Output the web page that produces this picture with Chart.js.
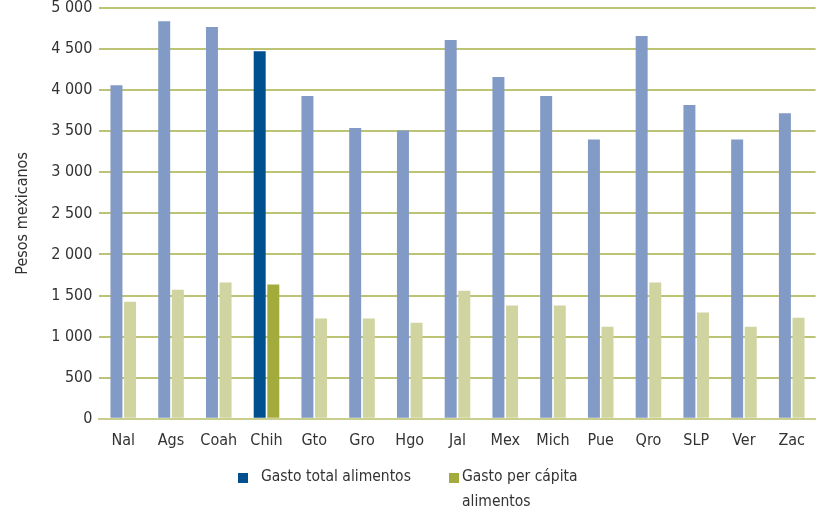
<!DOCTYPE html>
<html>
<head>
<meta charset="utf-8">
<script src="https://cdn.jsdelivr.net/npm/chart.js@4"></script>
<style>
  html, body { margin: 0; padding: 0; background: #fff; }
  #wrap { width: 817px; height: 515px; position: relative; }
</style>
</head>
<body>
<div id="wrap"><canvas id="gastoChart"></canvas></div>
<script>
const estados = ['Nal', 'Ags', 'Coah', 'Chih', 'Gto', 'Gro', 'Hgo', 'Jal', 'Mex', 'Mich', 'Pue', 'Qro', 'SLP', 'Ver', 'Zac'];
const gastoTotal = [4060, 4840, 4770, 4475, 3930, 3540, 3510, 4610, 4160, 3930, 3400, 4660, 3820, 3400, 3720];
const gastoPerCapita = [1425, 1570, 1660, 1635, 1220, 1220, 1170, 1560, 1380, 1380, 1120, 1660, 1295, 1120, 1230];
const seriesNames = ['Gasto total alimentos', ['Gasto per cápita', 'alimentos']];
const highlight = 'Chih';

const FONT = "'DejaVu Sans Condensed', 'Liberation Sans Narrow', sans-serif";

// light colours for every state, strong ones for the highlighted state
const totalColors = estados.map(e => e === highlight ? '#00508f' : '#829ac6');
const perCapColors = estados.map(e => e === highlight ? '#a3ab3c' : '#d0d4a0');

// legend drawn by hand so the second label can wrap on two lines
const legendPlugin = {
    id: 'customLegend',
    afterDraw(chart) {
        const ctx = chart.ctx;
        const items = [
            { x: 238, color: '#00508f', text: seriesNames[0] },
            { x: 449, color: '#a3ab3c', text: seriesNames[1] }
        ];
        ctx.save();
        ctx.font = '15.5px ' + FONT;
        ctx.textBaseline = 'middle';
        items.forEach(item => {
            ctx.fillStyle = item.color;
            ctx.fillRect(item.x, 473, 10, 10);
            ctx.fillStyle = '#333';
            const lines = Array.isArray(item.text) ? item.text : [item.text];
            const tx = item.x + (Array.isArray(item.text) ? 13 : 23);
            lines.forEach((line, i) => ctx.fillText(line, tx, 477 + i * 25));
        });
        ctx.restore();
    }
};

const ctx = document.getElementById('gastoChart').getContext('2d');
new Chart(ctx, {
    type: 'bar',
    data: {
        labels: estados,
        datasets: [
            {
                label: 'Gasto total alimentos',
                data: gastoTotal,
                backgroundColor: totalColors,
                borderWidth: 0
            },
            {
                label: 'Gasto per cápita alimentos',
                data: gastoPerCapita,
                backgroundColor: perCapColors,
                borderWidth: 0
            }
        ]
    },
    options: {
        responsive: true,
        maintainAspectRatio: false,
        animation: false,
        categoryPercentage: 0.57,
        barPercentage: 0.88,
        layout: { padding: { top: 8, right: 0, bottom: 53, left: 13 } },
        plugins: {
            legend: { display: false },
            tooltip: { enabled: false }
        },
        scales: {
            x: {
                grid: { display: false, drawTicks: false },
                border: { display: true, color: '#c9ce8d', width: 2 },
                ticks: { color: '#333', font: { family: FONT, size: 16 }, padding: 12 }
            },
            y: {
                min: 0,
                max: 5000,
                grid: { color: '#bcc374', lineWidth: 2, drawTicks: false },
                border: { display: false },
                // top gridline sits close to the top edge, like the original
                afterFit: scale => { scale.paddingTop = 0; },
                ticks: {
                    stepSize: 500,
                    color: '#333',
                    padding: 7,
                    font: { family: FONT, size: 16 },
                    callback: v => v >= 1000 ? Math.floor(v / 1000) + ' ' + String(v % 1000).padStart(3, '0') : String(v)
                },
                title: {
                    display: true,
                    text: 'Pesos mexicanos',
                    color: '#333',
                    font: { family: FONT, size: 16 },
                    padding: { top: 0, bottom: 12 }
                }
            }
        }
    },
    plugins: [legendPlugin]
});
</script>
</body>
</html>
